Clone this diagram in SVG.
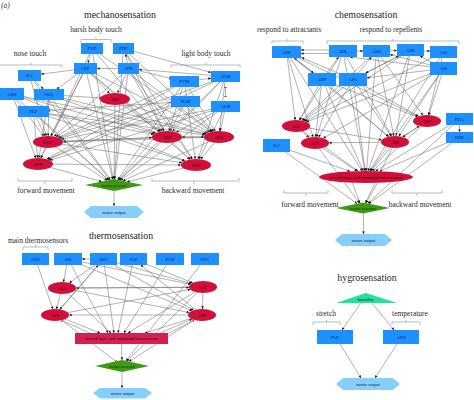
<svg xmlns="http://www.w3.org/2000/svg" width="474" height="400" viewBox="0 0 474 400">
<defs>
<marker id="ah" viewBox="0 0 10 10" refX="10" refY="5" markerWidth="3" markerHeight="2.6" markerUnits="userSpaceOnUse" orient="auto"><path d="M0,0L10,5L0,10z" fill="#111"/></marker>
<marker id="tb" viewBox="0 0 4 10" refX="3" refY="5" markerWidth="1.2" markerHeight="3.4" markerUnits="userSpaceOnUse" orient="auto"><path d="M2.5,0V10" stroke="#111" stroke-width="2.5"/></marker>
<marker id="tbs" viewBox="0 0 4 10" refX="1" refY="5" markerWidth="1.2" markerHeight="3.4" markerUnits="userSpaceOnUse" orient="auto"><path d="M1.5,0V10" stroke="#111" stroke-width="2.5"/></marker>
</defs>
<style>
.a{stroke:#707070;stroke-width:.55;marker-end:url(#ah)}
.t{stroke:#707070;stroke-width:.55;marker-end:url(#tb)}
.b{fill:#1e90ff}
.r{fill:#d0103a}
.l{font-family:"Liberation Serif","Times New Roman",serif;font-size:4.5px;text-anchor:middle;fill:#16214f}
.lr{fill:#4a0010}
.lg{fill:#173d00}
.ti{font-family:"Liberation Serif","Times New Roman",serif;font-size:9.8px;text-anchor:middle;fill:#1e1e1e}
.sl{font-family:"Liberation Serif","Times New Roman",serif;font-size:7.5px;text-anchor:middle;fill:#2a2a2a}
.br{fill:none;stroke:#8fa0b5;stroke-width:.7}
.mn{fill:#3c9a14}
.mo{fill:#87cefa}
</style>
<rect width="474" height="400" fill="#fff"/>

<g id="labels">
<text x="1" y="8" font-family="Liberation Serif,serif" font-size="7.5" font-style="italic" fill="#333">(a)</text>
<text class="ti" x="120" y="17.5">mechanosensation</text>
<text class="sl" x="96" y="31.5">harsh body touch</text>
<path class="br" d="M81,42.5V39.5H111V42.5M96,39.5V37"/>
<text class="sl" x="30" y="55.5">nose touch</text>
<path class="br" d="M0,65H62V68M31,65V62.5"/>
<text class="sl" x="206" y="55.5">light body touch</text>
<path class="br" d="M171,68V65H240V68M206,65V62.5"/>
<path class="br" d="M18,178V181H72V178M45,181V184"/>
<text class="sl" x="46" y="192.5">forward movement</text>
<path class="br" d="M152,178V181H239V178M194,181V184"/>
<text class="sl" x="193" y="192.5">backward movement</text>

<text class="ti" x="366" y="17.5">chemosensation</text>
<text class="sl" x="289" y="31.5">respond to attractants</text>
<path class="br" d="M272,44V41H303V44M287,41V38.5"/>
<text class="sl" x="391" y="31.5">respond to repellents</text>
<path class="br" d="M327,44V41H459V44M393,41V38.5"/>
<path class="br" d="M284,190V193H328V190M306,193V196"/>
<text class="sl" x="310" y="206.5">forward movement</text>
<path class="br" d="M392,190V193H442V190M417,193V196"/>
<text class="sl" x="420" y="206.5">backward movement</text>

<text class="ti" x="121" y="238.5">thermosensation</text>
<text class="sl" x="38" y="242.5">main thermosensors</text>
<path class="br" d="M23,250V247H48V250M35.5,247V244.8"/>

<text class="ti" x="367" y="280.5">hygrosensation</text>
<text class="sl" x="326" y="315.5">stretch</text>
<path class="br" d="M313,325V322H340V325M326.5,322V319.8"/>
<text class="sl" x="410" y="315.5">temperature</text>
<path class="br" d="M392,325V322H420V325M406,322V319.8"/>
</g>

<g id="connectors">
<line class="a" x1="92" y1="48.5" x2="50.8" y2="136.1"/>
<line class="a" x1="85.5" y1="68.5" x2="51" y2="136.1"/>
<line class="a" x1="128.5" y1="68.5" x2="54" y2="136.5"/>
<line class="a" x1="29.5" y1="75.5" x2="46.3" y2="136"/>
<line class="a" x1="12" y1="94" x2="43.7" y2="136.3"/>
<line class="a" x1="49" y1="94.5" x2="48.1" y2="136"/>
<line class="a" x1="33.5" y1="111.5" x2="45.2" y2="136.1"/>
<line class="a" x1="184.5" y1="81.5" x2="58" y2="137.5"/>
<line class="a" x1="225.5" y1="76.5" x2="59" y2="137.9"/>
<line class="a" x1="185.5" y1="101.5" x2="60.1" y2="138.4"/>
<line class="a" x1="225.5" y1="106.5" x2="61.4" y2="139.3"/>
<line class="a" x1="167" y1="137" x2="63" y2="141.4"/>
<line class="a" x1="219" y1="137" x2="63" y2="141.8"/>
<line class="a" x1="115" y1="99" x2="55.9" y2="136.9"/>
<line class="a" x1="12" y1="94" x2="35.8" y2="158.1"/>
<line class="a" x1="49" y1="94.5" x2="38.9" y2="158"/>
<line class="a" x1="33.5" y1="111.5" x2="37.5" y2="158"/>
<line class="a" x1="48" y1="142" x2="40.7" y2="158.1"/>
<line class="a" x1="85.5" y1="68.5" x2="40.9" y2="158.1"/>
<line class="a" x1="184.5" y1="81.5" x2="46.7" y2="159.1"/>
<line class="a" x1="185.5" y1="101.5" x2="48.3" y2="159.6"/>
<line class="a" x1="225.5" y1="106.5" x2="49.9" y2="160.3"/>
<line class="a" x1="225.5" y1="76.5" x2="47.8" y2="159.4"/>
<line class="a" x1="92" y1="48.5" x2="162.2" y2="131.3"/>
<line class="a" x1="123.5" y1="48.5" x2="164.1" y2="131.1"/>
<line class="a" x1="85.5" y1="68.5" x2="160.6" y2="131.6"/>
<line class="a" x1="128.5" y1="68.5" x2="163.7" y2="131.1"/>
<line class="a" x1="12" y1="94" x2="154.7" y2="133.6"/>
<line class="a" x1="49" y1="94.5" x2="155.9" y2="133"/>
<line class="a" x1="33.5" y1="111.5" x2="153.5" y2="134.4"/>
<line class="a" x1="184.5" y1="81.5" x2="168.9" y2="131"/>
<line class="a" x1="185.5" y1="101.5" x2="170.1" y2="131.1"/>
<line class="a" x1="225.5" y1="76.5" x2="172.4" y2="131.4"/>
<line class="a" x1="225.5" y1="106.5" x2="176.1" y2="132.2"/>
<line class="a" x1="115" y1="99" x2="159.8" y2="131.7"/>
<line class="a" x1="48" y1="142" x2="152" y2="137.6"/>
<line class="a" x1="219" y1="137" x2="182" y2="137"/>
<line class="a" x1="167" y1="137" x2="204" y2="137"/>
<line class="a" x1="92" y1="48.5" x2="211.5" y2="131.8"/>
<line class="a" x1="123.5" y1="48.5" x2="213.1" y2="131.5"/>
<line class="a" x1="85.5" y1="68.5" x2="209.8" y2="132.3"/>
<line class="a" x1="128.5" y1="68.5" x2="212" y2="131.7"/>
<line class="a" x1="12" y1="94" x2="205.7" y2="134.2"/>
<line class="a" x1="33.5" y1="111.5" x2="204.8" y2="135"/>
<line class="a" x1="49" y1="94.5" x2="206.3" y2="133.8"/>
<line class="a" x1="184.5" y1="81.5" x2="215.4" y2="131.2"/>
<line class="a" x1="225.5" y1="76.5" x2="219.6" y2="131"/>
<line class="a" x1="185.5" y1="101.5" x2="213.7" y2="131.4"/>
<line class="a" x1="225.5" y1="106.5" x2="220.3" y2="131"/>
<line class="a" x1="115" y1="99" x2="207.9" y2="133"/>
<line class="a" x1="85.5" y1="68.5" x2="189.8" y2="159.5"/>
<line class="a" x1="128.5" y1="68.5" x2="192" y2="159.2"/>
<line class="a" x1="123.5" y1="48.5" x2="192.4" y2="159.2"/>
<line class="a" x1="12" y1="94" x2="185.2" y2="160.8"/>
<line class="a" x1="33.5" y1="111.5" x2="184.4" y2="161.2"/>
<line class="a" x1="184.5" y1="81.5" x2="195.2" y2="159.1"/>
<line class="a" x1="225.5" y1="76.5" x2="198" y2="159.1"/>
<line class="a" x1="225.5" y1="106.5" x2="199" y2="159.1"/>
<line class="a" x1="167" y1="137" x2="190.3" y2="159.5"/>
<line class="a" x1="219" y1="137" x2="200.7" y2="159.3"/>
<line class="a" x1="38" y1="164" x2="181" y2="165"/>
<line class="a" x1="48" y1="142" x2="182" y2="162.8"/>
<line class="a" x1="92" y1="48.5" x2="113.1" y2="179.2"/>
<line class="a" x1="123.5" y1="48.5" x2="114.4" y2="179.1"/>
<line class="a" x1="85.5" y1="68.5" x2="112.6" y2="179.3"/>
<line class="a" x1="128.5" y1="68.5" x2="114.7" y2="179.2"/>
<line class="a" x1="115" y1="99" x2="114" y2="179"/>
<line class="a" x1="29.5" y1="75.5" x2="110" y2="179.9"/>
<line class="a" x1="12" y1="94" x2="108.6" y2="180.2"/>
<line class="a" x1="49" y1="94.5" x2="110.3" y2="179.8"/>
<line class="a" x1="33.5" y1="111.5" x2="108.7" y2="180.1"/>
<line class="a" x1="184.5" y1="81.5" x2="117.6" y2="179.8"/>
<line class="a" x1="225.5" y1="76.5" x2="119" y2="180.1"/>
<line class="a" x1="185.5" y1="101.5" x2="118.3" y2="179.9"/>
<line class="a" x1="225.5" y1="106.5" x2="120.5" y2="180.4"/>
<line class="a" x1="48" y1="142" x2="107.1" y2="180.5"/>
<line class="a" x1="38" y1="164" x2="101.8" y2="181.6"/>
<line class="a" x1="167" y1="137" x2="119.4" y2="180.1"/>
<line class="a" x1="219" y1="137" x2="122.9" y2="180.9"/>
<line class="a" x1="196" y1="165" x2="127.1" y2="181.8"/>
<line class="a" x1="114" y1="191" x2="114" y2="206"/>
<line class="a" x1="85.5" y1="68.5" x2="41" y2="74.1"/>
<line class="a" x1="128.5" y1="68.5" x2="97" y2="68.5"/>
<line class="a" x1="29.5" y1="75.5" x2="43.4" y2="89"/>
<line class="a" x1="85.5" y1="68.5" x2="56.7" y2="89"/>
<line class="t" x1="49" y1="94.5" x2="100.2" y2="98"/>
<line class="a" x1="85.5" y1="68.5" x2="109.6" y2="93.4"/>
<line class="a" x1="128.5" y1="68.5" x2="117.6" y2="93.1"/>
<line class="a" x1="128.5" y1="68.5" x2="125.5" y2="54"/>
<line class="a" x1="92" y1="48.5" x2="88" y2="63"/>
<line class="a" x1="225.5" y1="76.5" x2="139" y2="69.5"/>
<line class="t" x1="128.5" y1="68.5" x2="170" y2="78.1"/>
<line class="a" x1="123.5" y1="48.5" x2="211" y2="72.5"/>
<line class="a" x1="184.5" y1="81.5" x2="211" y2="78.3"/>
<line class="t" x1="185.5" y1="101.5" x2="49" y2="110.5"/>
<line stroke="#707070" stroke-width=".55" marker-start="url(#tbs)" marker-end="url(#tb)" x1="225.5" y1="87" x2="225.5" y2="97"/>

<line class="a" x1="343" y1="50" x2="301" y2="50"/>
<line class="a" x1="343" y1="53.5" x2="301" y2="53.5"/>
<line class="a" x1="343" y1="51" x2="363" y2="51"/>
<line class="a" x1="376.5" y1="50.5" x2="397" y2="50.5"/>
<line class="a" x1="410.5" y1="51" x2="430" y2="51"/>
<line class="a" x1="443.5" y1="68.5" x2="390" y2="54.5"/>
<line class="a" x1="443.5" y1="68.5" x2="350" y2="57"/>
<line class="a" x1="443.5" y1="68.5" x2="420" y2="56"/>
<line class="a" x1="322" y1="79.5" x2="294.2" y2="58"/>
<line class="a" x1="353" y1="79.5" x2="301.5" y2="57.5"/>
<line class="a" x1="322" y1="79.5" x2="338.6" y2="57"/>
<line class="a" x1="353" y1="79.5" x2="371.5" y2="57"/>
<line class="a" x1="353" y1="79.5" x2="398.8" y2="56"/>
<line class="a" x1="286.5" y1="52" x2="313.6" y2="73"/>
<line class="a" x1="443.5" y1="68.5" x2="367" y2="77.8"/>
<line class="a" x1="410.5" y1="50" x2="365.7" y2="73"/>
<line class="a" x1="286.5" y1="52" x2="295.2" y2="120"/>
<line class="a" x1="343" y1="51" x2="299.6" y2="120.2"/>
<line class="a" x1="376.5" y1="51" x2="301.9" y2="120.5"/>
<line class="a" x1="410.5" y1="50" x2="303.6" y2="121"/>
<line class="a" x1="443.5" y1="68.5" x2="306.4" y2="122"/>
<line class="a" x1="322" y1="79.5" x2="299.3" y2="120.2"/>
<line class="a" x1="353" y1="79.5" x2="302.5" y2="120.7"/>
<line class="a" x1="443.5" y1="52" x2="305.1" y2="121.4"/>
<line class="a" x1="286.5" y1="52" x2="313.1" y2="137.1"/>
<line class="a" x1="322" y1="79.5" x2="315.7" y2="137"/>
<line class="a" x1="353" y1="79.5" x2="318.5" y2="137.2"/>
<line class="a" x1="343" y1="51" x2="316.8" y2="137"/>
<line class="a" x1="296" y1="126" x2="309" y2="137.6"/>
<line class="a" x1="395" y1="142" x2="329" y2="142.8"/>
<line class="a" x1="443.5" y1="68.5" x2="323.3" y2="138.2"/>
<line class="a" x1="286.5" y1="52" x2="417.8" y2="116.5"/>
<line class="a" x1="376.5" y1="51" x2="422.9" y2="115.3"/>
<line class="a" x1="443.5" y1="68.5" x2="428.9" y2="115.1"/>
<line class="a" x1="443.5" y1="52" x2="428.4" y2="115"/>
<line class="t" x1="322" y1="79.5" x2="416.7" y2="116.9"/>
<line class="a" x1="353" y1="79.5" x2="418.5" y2="116.2"/>
<line class="a" x1="395" y1="142" x2="419.4" y2="126"/>
<line class="a" x1="286.5" y1="52" x2="388.6" y2="136.7"/>
<line class="a" x1="343" y1="51" x2="391.7" y2="136.2"/>
<line class="a" x1="376.5" y1="51" x2="393.8" y2="136"/>
<line class="a" x1="410.5" y1="50" x2="396" y2="136"/>
<line class="a" x1="443.5" y1="68.5" x2="398.8" y2="136.2"/>
<line class="a" x1="322" y1="79.5" x2="388.7" y2="136.6"/>
<line class="a" x1="353" y1="79.5" x2="391.1" y2="136.2"/>
<line class="a" x1="427" y1="121" x2="402.7" y2="137"/>
<line class="a" x1="296" y1="126" x2="381.9" y2="139.9"/>
<line class="a" x1="459.5" y1="125" x2="459.5" y2="132"/>
<line class="a" x1="296" y1="126" x2="357.9" y2="171.1"/>
<line class="a" x1="315" y1="143" x2="357.2" y2="171.1"/>
<line class="a" x1="395" y1="142" x2="370.9" y2="171"/>
<line class="a" x1="427" y1="121" x2="372.5" y2="171.1"/>
<line class="a" x1="276.5" y1="145.5" x2="350" y2="171.4"/>
<line class="a" x1="286.5" y1="52" x2="362.2" y2="171"/>
<line class="a" x1="343" y1="51" x2="364.9" y2="171"/>
<line class="a" x1="376.5" y1="51" x2="366.5" y2="171"/>
<line class="a" x1="410.5" y1="50" x2="368.1" y2="171"/>
<line class="a" x1="443.5" y1="68.5" x2="370.3" y2="171"/>
<line class="a" x1="322" y1="79.5" x2="363.3" y2="171"/>
<line class="a" x1="353" y1="79.5" x2="365.2" y2="171"/>
<line class="a" x1="459.5" y1="119" x2="375.5" y2="171.1"/>
<line class="a" x1="459.5" y1="137.5" x2="379.6" y2="171.3"/>
<line class="a" x1="443.5" y1="52" x2="369.7" y2="171"/>
<line class="a" x1="276.5" y1="145.5" x2="357.1" y2="203.7"/>
<line class="a" x1="459.5" y1="137.5" x2="368.9" y2="203.7"/>
<line class="a" x1="459.5" y1="119" x2="367.9" y2="203.5"/>
<line class="a" x1="315" y1="143" x2="359.5" y2="203.2"/>
<line class="a" x1="395" y1="142" x2="365.4" y2="203"/>
<line class="a" x1="352" y1="182" x2="360" y2="203"/>
<line class="a" x1="378" y1="182" x2="366" y2="203"/>
<line class="a" x1="363.5" y1="213.5" x2="363.5" y2="234"/>

<line class="a" x1="103.5" y1="259" x2="82" y2="259"/>
<line class="a" x1="68" y1="259" x2="63.5" y2="282"/>
<line class="a" x1="103.5" y1="259" x2="69.3" y2="282.9"/>
<line class="a" x1="55" y1="315" x2="98.3" y2="265"/>
<line class="a" x1="35.5" y1="259" x2="52.9" y2="309.1"/>
<line class="a" x1="62" y1="288" x2="56.5" y2="309.2"/>
<line class="a" x1="103.5" y1="259" x2="59.9" y2="309.4"/>
<line class="a" x1="203" y1="287" x2="76" y2="288"/>
<line class="a" x1="62" y1="288" x2="189" y2="287.5"/>
<line class="a" x1="202" y1="315" x2="69" y2="315"/>
<line class="a" x1="68" y1="259" x2="190.4" y2="284.4"/>
<line class="a" x1="68" y1="259" x2="192" y2="310.8"/>
<line class="a" x1="103.5" y1="259" x2="191.3" y2="283.7"/>
<line class="a" x1="103.5" y1="259" x2="193.6" y2="310.2"/>
<line class="a" x1="55" y1="315" x2="190.2" y2="289.4"/>
<line class="a" x1="62" y1="288" x2="189.2" y2="312.5"/>
<line class="a" x1="203" y1="293" x2="202.5" y2="309"/>
<line class="a" x1="133.5" y1="259" x2="192.8" y2="282.9"/>
<line class="a" x1="202" y1="315" x2="140.8" y2="265"/>
<line class="a" x1="55" y1="315" x2="100" y2="333"/>
<line class="a" x1="68" y1="259" x2="108" y2="333"/>
<line class="a" x1="103.5" y1="259" x2="114" y2="333"/>
<line class="a" x1="133.5" y1="259" x2="118" y2="333"/>
<line class="a" x1="170" y1="259" x2="124" y2="333"/>
<line class="a" x1="62" y1="288" x2="111" y2="333"/>
<line class="a" x1="203" y1="287" x2="128" y2="333"/>
<line class="a" x1="202" y1="315" x2="145" y2="333"/>
<line class="a" x1="160" y1="333" x2="192.1" y2="319.2"/>
<line class="t" x1="165" y1="335" x2="193.5" y2="320.5"/>
<line class="t" x1="90" y1="333" x2="62" y2="320.5"/>
<line class="a" x1="121.5" y1="344" x2="122" y2="360"/>
<line class="t" x1="55" y1="315" x2="115.9" y2="361.4"/>
<line class="a" x1="205" y1="259" x2="126" y2="360.9"/>
<line class="a" x1="202" y1="315" x2="129" y2="361.5"/>
<line class="a" x1="203" y1="287" x2="127" y2="361.1"/>
<line class="a" x1="122" y1="372" x2="122" y2="388"/>

<line class="a" x1="361" y1="303" x2="342" y2="330"/>
<line class="a" x1="372" y1="303" x2="394" y2="330"/>
<line class="a" x1="340" y1="344" x2="361" y2="378"/>
<line class="a" x1="397" y1="344" x2="375" y2="378"/>
</g>

<g id="m-PVD"><rect class="b" x="81" y="43" width="22" height="11"/><text class="l" x="92" y="50">PVD</text></g>
<g id="m-PDE"><rect class="b" x="113" y="43" width="21" height="11"/><text class="l" x="123.5" y="50">PDE</text></g>
<g id="m-CEP"><rect class="b" x="74" y="63" width="23" height="11"/><text class="l" x="85.5" y="70">CEP</text></g>
<g id="m-ADE"><rect class="b" x="118" y="63" width="21" height="11"/><text class="l" x="128.5" y="70">ADE</text></g>
<g id="m-IL1"><rect class="b" x="18" y="70" width="23" height="11"/><text class="l" x="29.5" y="77">IL1</text></g>
<g id="m-ASH"><rect class="b" x="0" y="88" width="24" height="12"/><text class="l" x="12" y="95.5">ASH</text></g>
<g id="m-OLQ"><rect class="b" x="34" y="89" width="30" height="11"/><text class="l" x="49" y="96">OLQ</text></g>
<g id="m-FLP"><rect class="b" x="18" y="106" width="31" height="11"/><text class="l" x="33.5" y="113">FLP</text></g>
<g id="m-PVM"><rect class="b" x="170" y="76" width="29" height="11"/><text class="l" x="184.5" y="83">PVM</text></g>
<g id="m-AVM"><rect class="b" x="211" y="71" width="29" height="11"/><text class="l" x="225.5" y="78">AVM</text></g>
<g id="m-PLM"><rect class="b" x="171" y="96" width="29" height="11"/><text class="l" x="185.5" y="103">PLM</text></g>
<g id="m-ALM"><rect class="b" x="211" y="101" width="29" height="11"/><text class="l" x="225.5" y="108">ALM</text></g>
<g id="m-RIH"><ellipse class="r" cx="115" cy="99" rx="15" ry="6"/><text class="l lr" x="115" y="100.5">RIH</text></g>
<g id="m-PVC"><ellipse class="r" cx="48" cy="142" rx="15" ry="6"/><text class="l lr" x="48" y="143.5">PVC</text></g>
<g id="m-AVB"><ellipse class="r" cx="38" cy="164" rx="15" ry="6"/><text class="l lr" x="38" y="165.5">AVB</text></g>
<g id="m-AVD"><ellipse class="r" cx="167" cy="137" rx="15" ry="6"/><text class="l lr" x="167" y="138.5">AVD</text></g>
<g id="m-AVA"><ellipse class="r" cx="219" cy="137" rx="15" ry="6"/><text class="l lr" x="219" y="138.5">AVA</text></g>
<g id="m-AVE"><ellipse class="r" cx="196" cy="165" rx="15" ry="6"/><text class="l lr" x="196" y="166.5">AVE</text></g>
<g id="m-MN"><polygon class="mn" points="85,185 114,179 143,185 114,191"/><text class="l lg" x="114" y="186.5">motor neurons</text></g>
<g id="m-MO"><polygon class="mo" points="84,212 91,206 137,206 144,212 137,218 91,218"/><text class="l" x="114" y="213.5">motor output</text></g>

<g id="c-ASE"><rect class="b" x="272" y="46" width="29" height="12"/><text class="l" x="286.5" y="53.5">ASE</text></g>
<g id="c-ADL"><rect class="b" x="329" y="45" width="28" height="12"/><text class="l" x="343" y="52.5">ADL</text></g>
<g id="c-ASH"><rect class="b" x="363" y="45" width="27" height="12"/><text class="l" x="376.5" y="52.5">ASH</text></g>
<g id="c-ASK"><rect class="b" x="397" y="44" width="27" height="12"/><text class="l" x="410.5" y="51.5">ASK</text></g>
<g id="c-ASJ"><rect class="b" x="430" y="46" width="27" height="12"/><text class="l" x="443.5" y="53.5">ASJ</text></g>
<g id="c-ASI"><rect class="b" x="430" y="62" width="27" height="13"/><text class="l" x="443.5" y="70">ASI</text></g>
<g id="c-ADF"><rect class="b" x="308" y="73" width="28" height="13"/><text class="l" x="322" y="81">ADF</text></g>
<g id="c-ASG"><rect class="b" x="339" y="73" width="28" height="13"/><text class="l" x="353" y="81">ASG</text></g>
<g id="c-PHA"><rect class="b" x="446" y="113" width="27" height="12"/><text class="l" x="459.5" y="120.5">PHA</text></g>
<g id="c-PHB"><rect class="b" x="446" y="132" width="27" height="11"/><text class="l" x="459.5" y="139">PHB</text></g>
<g id="c-IL2"><rect class="b" x="263" y="139" width="27" height="13"/><text class="l" x="276.5" y="147">IL2</text></g>
<g id="c-AIA"><ellipse class="r" cx="296" cy="126" rx="14" ry="6"/><text class="l lr" x="296" y="127.5">AIA</text></g>
<g id="c-AIZ"><ellipse class="r" cx="427" cy="121" rx="14" ry="6"/><text class="l lr" x="427" y="122.5">AIZ</text></g>
<g id="c-AIY"><ellipse class="r" cx="315" cy="143" rx="14" ry="6"/><text class="l lr" x="315" y="144.5">AIY</text></g>
<g id="c-AIB"><ellipse class="r" cx="395" cy="142" rx="14" ry="6"/><text class="l lr" x="395" y="143.5">AIB</text></g>
<g id="c-CI"><ellipse class="r" cx="366" cy="177" rx="47" ry="6"/><text class="l lr" x="366" y="178.5">second layer and command interneurons</text></g>
<g id="c-MN"><polygon class="mn" points="336,208 363,202.5 390,208 363,213.5"/><text class="l lg" x="363" y="209.5">motor neurons</text></g>
<g id="c-MO"><polygon class="mo" points="335,240 342,234 385,234 392,240 385,246 342,246"/><text class="l" x="363.5" y="241.5">motor output</text></g>

<g id="t-AFD"><rect class="b" x="22" y="253" width="27" height="12"/><text class="l" x="35.5" y="260.5">AFD</text></g>
<g id="t-ASI"><rect class="b" x="54" y="253" width="28" height="12"/><text class="l" x="68" y="260.5">ASI</text></g>
<g id="t-AWC"><rect class="b" x="90" y="253" width="27" height="12"/><text class="l" x="103.5" y="260.5">AWC</text></g>
<g id="t-FLP"><rect class="b" x="120" y="253" width="27" height="12"/><text class="l" x="133.5" y="260.5">FLP</text></g>
<g id="t-PVD"><rect class="b" x="156" y="253" width="28" height="12"/><text class="l" x="170" y="260.5">PVD</text></g>
<g id="t-PHC"><rect class="b" x="191" y="253" width="28" height="12"/><text class="l" x="205" y="260.5">PHC</text></g>
<g id="t-AIA"><ellipse class="r" cx="62" cy="288" rx="14" ry="6"/><text class="l lr" x="62" y="289.5">AIA</text></g>
<g id="t-AIZ"><ellipse class="r" cx="203" cy="287" rx="14" ry="6"/><text class="l lr" x="203" y="288.5">AIZ</text></g>
<g id="t-AIY"><ellipse class="r" cx="55" cy="315" rx="14" ry="6"/><text class="l lr" x="55" y="316.5">AIY</text></g>
<g id="t-AIB"><ellipse class="r" cx="202" cy="315" rx="14" ry="6"/><text class="l lr" x="202" y="316.5">AIB</text></g>
<g id="t-CI"><rect x="75" y="333" width="93" height="11" fill="#d42050"/><text class="l lr" x="121.5" y="340">second layer and command interneurons</text></g>
<g id="t-MN"><polygon class="mn" points="95,366 122,360 149,366 122,372"/><text class="l lg" x="122" y="367.5">motor neurons</text></g>
<g id="t-MO"><polygon class="mo" points="93,393 100,388 145,388 152,393 145,398.5 100,398.5"/><text class="l" x="122.5" y="394.5">motor output</text></g>

<g id="h-humidity"><polygon points="366,293 336,303 397,303" fill="#22e39a"/><text class="l" x="366" y="301">humidity</text></g>
<g id="h-FLP"><rect class="b" x="317" y="330" width="36" height="14"/><text class="l" x="335" y="338.5">FLP</text></g>
<g id="h-AFD"><rect class="b" x="383" y="330" width="36" height="14"/><text class="l" x="401" y="338.5">AFD</text></g>
<g id="h-MO"><polygon class="mo" points="336,384 343,378 393,378 400,384 393,390 343,390"/><text class="l" x="368" y="385.5">motor output</text></g>
</svg>
